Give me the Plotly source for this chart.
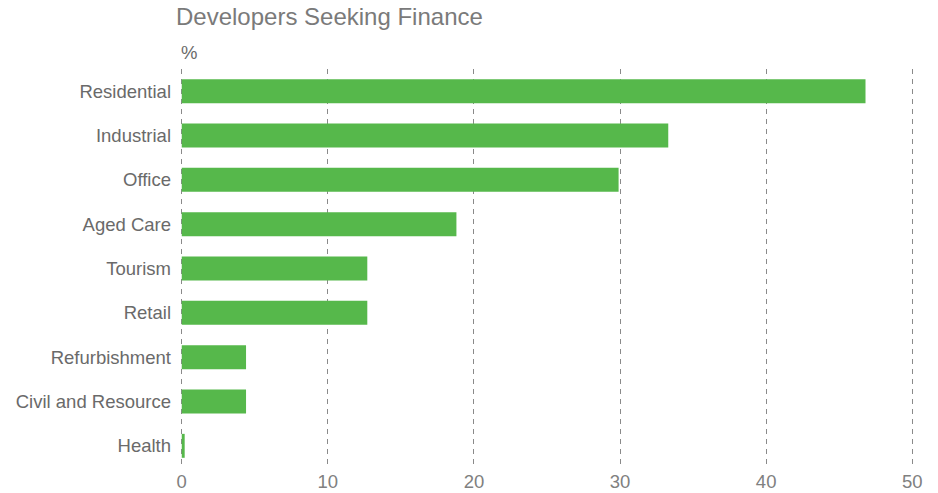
import plotly.graph_objects as go

# Share of developers seeking finance, by sector (%)
sectors = ["Residential", "Industrial", "Office", "Aged Care", "Tourism",
           "Retail", "Refurbishment", "Civil and Resource", "Health"]
shares = [46.8, 33.3, 29.9, 18.8, 12.7, 12.7, 4.4, 4.4, 0.2]
x_ticks = [0, 10, 20, 30, 40, 50]

BAR_GREEN = "#56B84B"
TEXT_GREY = "#6a6a6a"
TICK_GREY = "#808080"
FONT = "Liberation Sans, Arial, sans-serif"

# small padding so the gridlines at 0 and 50 are not clipped at the plot edges
X_PAD = 0.12

fig = go.Figure(
    go.Bar(
        x=shares,
        y=sectors,
        orientation="h",
        marker=dict(color=BAR_GREEN, line=dict(width=0)),
        hovertemplate="%{y}: %{x}%<extra></extra>",
    )
)

fig.update_layout(
    width=938,
    height=493,
    margin=dict(l=180, r=24, t=69, b=25, autoexpand=False),
    paper_bgcolor="white",
    plot_bgcolor="white",
    bargap=0.46,
    showlegend=False,
    font=dict(family=FONT, color=TEXT_GREY, size=18.5),
    title=dict(
        text="Developers Seeking Finance",
        xref="container", yref="container",
        x=176 / 938, xanchor="left",
        y=1 - 17 / 493, yanchor="middle",
        font=dict(size=24, color="#7a7a7a", family=FONT),
    ),
    annotations=[
        dict(
            text="%",
            xref="paper", yref="paper",
            x=-1 / 734, xanchor="left",
            y=1 + 17 / 399, yanchor="middle",
            showarrow=False,
            font=dict(size=18.5, color=TEXT_GREY, family=FONT),
        )
    ],
)

fig.update_xaxes(
    range=[-X_PAD, 50 + X_PAD],
    tickvals=x_ticks,
    ticktext=[str(v) for v in x_ticks],
    showgrid=True,
    gridcolor="#8a8a8a",
    gridwidth=1,
    griddash="5px,5px",
    zeroline=False,
    showline=False,
    ticks="",
    tickfont=dict(size=18.5, color=TICK_GREY),
    ticklabelstandoff=0,
    automargin=False,
    fixedrange=True,
)

fig.update_yaxes(
    categoryorder="array",
    categoryarray=sectors[::-1],
    showgrid=False,
    zeroline=False,
    showline=False,
    ticks="",
    ticklabelstandoff=8,
    tickfont=dict(size=18.5, color=TEXT_GREY),
    automargin=False,
    fixedrange=True,
)

fig.write_html("out.html")
